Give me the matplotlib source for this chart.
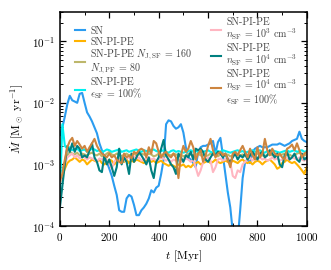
import numpy as np
import matplotlib
matplotlib.use("Agg")
import matplotlib.pyplot as plt
from matplotlib.ticker import MultipleLocator, LogLocator, NullFormatter

plt.rcParams['font.family'] = 'serif'
plt.rcParams['font.serif'] = ['cmr10', 'DejaVu Serif']
plt.rcParams['mathtext.fontset'] = 'cm'
plt.rcParams['axes.formatter.use_mathtext'] = True

# time in Myr, every 10 Myr
t = np.arange(0, 1001, 10)

# accretion rates in units of 1e-3 Msun/yr
sn = [3.0, 4.0, 6.0, 9.5, 13, 11, 10.5, 10, 14, 14.5,
      10, 7, 6, 5, 4, 3.2, 2.2, 1.7, 1.3, 1.1,
      0.85, 0.65, 0.45, 0.32, 0.18, 0.17, 0.17, 0.28, 0.32, 0.30,
      0.22, 0.15, 0.15, 0.18, 0.20, 0.23, 0.28, 0.38, 0.35, 0.42,
      0.45, 0.7, 1.2, 4.5, 5.2, 5.0, 4.2, 3.8, 4.0, 4.5,
      3.3, 1.9, 1.3, 1.2, 1.05, 0.9, 1.6, 1.9, 2.0, 2.0,
      2.1, 2.2, 2.4, 1.5, 2.3, 2.7, 1.4, 0.7, 0.35, 0.2,
      0.08, 0.05, 0.06, 0.18, 0.6, 1.1, 1.2, 1.05, 1.6, 1.8,
      1.9, 2.0, 1.9, 1.9, 1.9, 2.0, 2.1, 2.1, 2.1, 2.2,
      2.1, 2.0, 2.1, 2.2, 2.4, 2.5, 2.6, 3.4, 2.6, 2.4, 2.3]

sn_pi_pe = [0.5, 0.65, 0.85, 1.05, 1.15, 1.2, 1.3, 1.2, 1.1, 1.2,
            1.15, 1.0, 1.1, 1.2, 1.15, 1.1, 1.2, 1.05, 1.0, 1.1,
            1.2, 1.15, 1.0, 1.1, 1.2, 1.15, 1.1, 1.2, 1.05, 1.15,
            1.1, 1.2, 1.15, 1.1, 1.05, 1.15, 1.2, 1.1, 1.15, 1.05,
            1.1, 1.15, 1.05, 1.0, 0.95, 1.0, 0.95, 0.9, 1.0, 0.95,
            1.0, 0.9, 0.95, 0.9, 1.0, 1.05, 1.1, 1.0, 1.05, 1.1,
            1.15, 1.05, 1.1, 1.2, 1.1, 1.05, 1.1, 1.15, 1.1, 1.05,
            1.15, 1.1, 1.05, 1.15, 1.2, 1.1, 1.05, 1.1, 1.0, 1.1,
            1.15, 1.1, 1.0, 1.1, 1.15, 1.2, 1.1, 1.0, 0.85, 0.9,
            1.05, 1.1, 1.2, 1.1, 1.05, 1.1, 1.0, 0.9, 0.8, 0.7, 0.9]

sn_pi_pe_nj = [0.6, 0.8, 1.1, 1.4, 1.6, 1.5, 1.45, 1.55, 1.4, 1.5,
               1.45, 1.4, 1.5, 1.55, 1.45, 1.4, 1.5, 1.35, 1.4, 1.5,
               1.6, 1.45, 1.4, 1.5, 1.45, 1.35, 1.45, 1.5, 1.4, 1.45,
               1.5, 1.4, 1.45, 1.5, 1.45, 1.4, 1.5, 1.45, 1.35, 1.4,
               1.5, 1.45, 1.4, 1.35, 1.45, 1.4, 1.5, 1.45, 1.4, 1.45,
               1.35, 1.4, 1.5, 1.45, 1.4, 1.45, 1.5, 1.4, 1.45, 1.35,
               1.4, 1.5, 1.45, 1.4, 1.35, 1.45, 1.5, 1.4, 1.45, 1.35,
               1.4, 1.45, 1.5, 1.4, 1.45, 1.35, 1.4, 1.5, 1.45, 1.4,
               1.5, 1.45, 1.4, 1.35, 1.45, 1.5, 1.4, 1.45, 1.35, 1.4,
               1.45, 1.5, 1.4, 1.45, 1.35, 1.4, 1.5, 1.55, 1.45, 1.4, 1.45]

sn_pi_pe_eps = [0.35, 4.5, 2.0, 1.8, 1.9, 1.7, 1.75, 1.8, 1.65, 1.7,
                1.75, 1.6, 1.7, 1.8, 1.75, 1.65, 1.7, 1.6, 1.65, 1.75,
                1.7, 1.6, 1.65, 1.7, 1.75, 1.6, 1.65, 1.7, 1.6, 1.65,
                1.7, 1.75, 1.65, 1.6, 1.7, 1.65, 1.6, 1.7, 1.75, 1.65,
                1.6, 1.65, 1.7, 1.6, 1.55, 1.65, 1.7, 1.6, 1.65, 1.6,
                1.55, 1.6, 1.65, 1.7, 1.6, 1.65, 1.6, 1.55, 1.6, 1.65,
                1.7, 1.6, 1.55, 1.6, 1.65, 1.6, 1.7, 1.65, 1.6, 1.55,
                1.6, 1.65, 1.7, 1.6, 1.65, 1.55, 1.6, 1.65, 1.7, 1.6,
                1.65, 1.7, 1.6, 1.55, 1.65, 1.6, 1.7, 1.65, 1.6, 1.55,
                1.6, 1.65, 1.7, 1.6, 1.65, 1.7, 1.6, 1.65, 1.7, 1.6, 1.65]

sn_pi_pe_n3 = [0.5, 0.7, 1.0, 1.3, 1.4, 1.5, 1.3, 1.4, 1.25, 1.35,
               1.3, 1.2, 1.3, 1.25, 1.2, 1.1, 1.25, 1.2, 1.3, 1.15,
               1.05, 0.85, 1.1, 1.25, 1.2, 1.3, 1.15, 1.25, 1.3, 1.2,
               1.35, 1.25, 1.3, 1.15, 1.2, 1.25, 1.3, 1.2, 1.25, 1.15,
               1.2, 1.3, 1.25, 1.15, 1.2, 1.1, 1.2, 1.15, 1.2, 1.1,
               1.15, 1.25, 1.2, 1.1, 1.2, 0.9, 0.65, 0.8, 1.1, 1.2,
               1.3, 1.15, 0.75, 0.9, 1.2, 1.25, 1.15, 1.2, 1.3, 1.1,
               0.65, 0.6, 0.8, 0.75, 1.0, 1.1, 1.2, 1.3, 1.15, 1.25,
               1.2, 1.3, 1.2, 1.25, 1.15, 1.2, 1.3, 1.2, 1.25, 1.15,
               1.2, 1.3, 1.25, 1.2, 1.3, 1.25, 1.2, 1.3, 1.2, 1.15, 1.25]

sn_pi_pe_n4 = [0.2, 0.45, 1.0, 2.0, 1.6, 2.2, 1.6, 2.0, 1.8, 1.3,
               1.4, 1.3, 1.7, 2.2, 1.3, 1.1, 0.8, 0.75, 1.4, 1.0,
               1.2, 0.9, 0.65, 0.9, 1.8, 1.0, 1.3, 1.1, 0.7, 1.5,
               1.1, 1.3, 1.6, 1.4, 1.2, 1.0, 1.3, 0.8, 0.6, 1.1,
               1.3, 1.8, 2.5, 1.4, 1.2, 1.0, 0.9, 0.7, 1.5, 1.3,
               1.1, 1.4, 1.3, 1.6, 1.2, 1.8, 1.7, 1.8, 1.6, 1.2,
               1.1, 1.3, 1.5, 1.4, 1.6, 1.5, 1.3, 1.5, 1.2, 1.1,
               1.3, 1.5, 1.2, 1.4, 1.3, 1.5, 1.2, 1.4, 1.6, 1.4,
               1.2, 1.5, 1.6, 1.3, 1.4, 1.7, 1.5, 1.3, 1.5, 1.0,
               0.9, 1.4, 1.6, 1.2, 1.3, 1.5, 1.2, 1.1, 1.5, 1.2, 1.3]

sn_pi_pe_n4_eps = [0.55, 0.7, 1.2, 1.9, 2.4, 2.7, 2.0, 2.4, 2.1, 1.8,
                   2.0, 1.6, 1.9, 2.2, 2.6, 2.0, 1.7, 1.5, 1.4, 1.3,
                   1.5, 1.3, 1.4, 1.2, 1.1, 1.05, 1.5, 1.3, 1.4, 1.25,
                   1.6, 1.5, 1.7, 1.8, 1.7, 1.3, 1.9, 1.5, 2.4, 2.2,
                   1.6, 1.3, 1.5, 1.6, 1.4, 1.3, 1.5, 1.3, 0.6, 1.4,
                   2.0, 1.6, 1.8, 2.4, 1.9, 1.2, 1.5, 1.7, 1.1, 1.4,
                   2.0, 2.6, 1.7, 1.3, 1.5, 1.6, 1.4, 1.5, 1.2, 0.9,
                   1.5, 1.6, 1.4, 1.7, 2.0, 1.6, 1.3, 1.8, 1.4, 1.2,
                   1.9, 1.3, 1.5, 2.6, 1.7, 1.4, 1.8, 1.5, 1.4, 1.5,
                   1.3, 1.2, 1.8, 1.9, 2.1, 1.7, 2.2, 1.7, 1.3, 1.5, 1.6]

labels = [
    'SN',
    'SN-PI-PE',
    'SN-PI-PE $N_{\\rm J,SF}$ = 160\n$N_{\\rm J,PF}$ = 80',
    'SN-PI-PE\n$\\epsilon_{\\rm SF}$ = 100%',
    'SN-PI-PE\n$n_{\\rm SF}$ = 10$^3$ cm$^{-3}$',
    'SN-PI-PE\n$n_{\\rm SF}$ = 10$^4$ cm$^{-3}$',
    'SN-PI-PE\n$n_{\\rm SF}$ = 10$^4$ cm$^{-3}$\n$\\epsilon_{\\rm SF}$ = 100%',
]
series = [sn, sn_pi_pe, sn_pi_pe_nj, sn_pi_pe_eps, sn_pi_pe_n3, sn_pi_pe_n4, sn_pi_pe_n4_eps]
colors = ['#2b9cf0', '#ffb300', '#bdb76b', '#00f0f0', '#ffb6c1', '#008080', '#cd853f']

fig = plt.figure(figsize=(3.31, 2.70), dpi=100)
ax = fig.add_axes([0.181, 0.163, 0.746, 0.793])

for y, c, lab in zip(series, colors, labels):
    ax.plot(t, np.array(y) * 1e-3, color=c, lw=1.5, label=lab)

ax.set_yscale('log')
ax.set_xlim(0, 1000)
ax.set_ylim(1e-4, 0.3)
ax.xaxis.set_major_locator(MultipleLocator(200))
ax.xaxis.set_minor_locator(MultipleLocator(100))
ax.yaxis.set_minor_locator(LogLocator(subs=np.arange(2, 10)))
ax.yaxis.set_minor_formatter(NullFormatter())
ax.tick_params(which='both', direction='in', top=True, right=True, labelsize=8)
ax.tick_params(which='major', length=4, width=0.9)
ax.tick_params(which='minor', length=2, width=0.7)
for s in ax.spines.values():
    s.set_linewidth(1.1)

ax.set_xlabel('$t$ [Myr]', fontsize=8.5)
ax.set_ylabel('$\\dot{M}$ [M$_\\odot$ yr$^{-1}$]', fontsize=8.5)

leg = ax.legend(ncol=2, loc='upper left', frameon=False, fontsize=7.2,
                handlelength=1.0, handletextpad=0.55, columnspacing=1.9,
                labelspacing=0.15, borderaxespad=0.2, bbox_to_anchor=(0.035, 1.0))
for txt in leg.get_texts():
    txt.set_linespacing(0.95)
    txt.set_color('#444444')

fig.savefig('out.png', dpi=100)
